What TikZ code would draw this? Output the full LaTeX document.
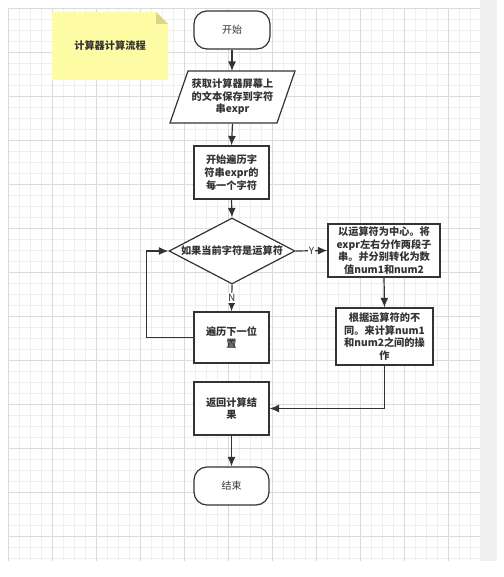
\documentclass[tikz,border=0pt]{standalone}
\usepackage{fontspec}
\usetikzlibrary{shapes.geometric,arrows.meta}
\newfontfamily\cjk{Noto Sans CJK SC}
\definecolor{linea}{HTML}{333333}
\definecolor{giallo}{HTML}{FDFBA3}
\definecolor{piega}{HTML}{D9D68C}
\definecolor{griglia}{HTML}{EFEFEF}
\definecolor{grigliaforte}{HTML}{DADADA}
\definecolor{banda}{HTML}{F0F0F0}
\tikzset{
  forma/.style={draw=linea,line width=1.2pt,fill=white},
  blocco/.style={forma,align=center,inner sep=0pt,text=linea,font=\cjk\bfseries\fontsize{10.2}{12.6}\selectfont},
  capsula/.style={forma,rounded corners=13pt,inner sep=0pt,text=linea,font=\cjk\fontsize{10}{12}\selectfont},
  rombo/.style={blocco,shape=diamond,minimum width=126pt,minimum height=66pt},
  freccia/.style={draw=linea,line width=1.2pt,-{Latex[length=9.5pt,width=8pt]}},
  etichetta/.style={fill=white,inner sep=1pt,text=linea,font=\cjk\fontsize{10}{12}\selectfont}
}
\begin{document}
\begin{tikzpicture}[x=1pt,y=-1pt]
        \useasboundingbox (0,0) rectangle (503,577);
        %sfondo a griglia
        \fill[banda](480,0)rectangle(497,561);
        \foreach \x in {8,19,...,470} \draw[griglia](\x,8)--(\x,561);
        \foreach \y in {8,19,...,558} \draw[griglia](8,\y)--(480,\y);
        \foreach \x in {8,52,...,470} \draw[grigliaforte](\x,8)--(\x,561);
        \foreach \y in {8,52,...,558} \draw[grigliaforte](8,\y)--(480,\y);

        %nota gialla col titolo
        \fill[giallo](52,12)--(156,12)--(168,24)--(168,80)--(52,80)--cycle;
        \fill[piega](156,12)--(156,24)--(168,24)--cycle;
        \node[text=linea,font=\cjk\bfseries\fontsize{10.2}{12}\selectfont] (titolo) at (110,46) {计算器计算流程};

        %inizio
        \node[capsula,minimum width=76pt,minimum height=38pt] (inizio) at (232,30) {开始};
        %lettura della stringa (parallelogramma)
        \draw[forma](170,123)--(277,123)--(295,71)--(188,71)--cycle;
        \node[blocco,draw=none,fill=none,minimum height=52pt] (leggi) at (232.5,97) {获取计算器屏幕上\\的文本保存到字符\\串expr};
        %scansione
        \node[blocco,minimum width=75pt,minimum height=53pt] (scorri) at (231.5,172.5) {开始遍历字\\符串expr的\\每一个字符};
        %decisione
        \node[rombo] (scelta) at (232,251) {\makebox[0pt]{如果当前字符是运算符}};
        %ramo Y
        \node[blocco,minimum width=112pt,minimum height=53pt] (dividi) at (384,250.5) {以运算符为中心。将\\expr左右分作两段子\\串。并分别转化为数\\值num1和num2};
        \node[blocco,minimum width=97pt,minimum height=57pt] (calcola) at (384.5,336.5) {根据运算符的不\\同。来计算num1\\和num2之间的操\\作};
        %ramo N
        \node[blocco,minimum width=75pt,minimum height=51pt] (avanti) at (231.5,337.5) {遍历下一位\\置};
        %risultato e fine
        \node[blocco,minimum width=75pt,minimum height=53pt] (risultato) at (231.5,408.5) {返回计算结\\果};
        \node[capsula,minimum width=75pt,minimum height=38pt] (fine) at (231.5,486) {结束};

        %frecce
        \draw[freccia](inizio.south)--(232,71);
        \draw[freccia](leggi.south)--(scorri.north);
        \draw[freccia](scorri.south)--(scelta.north);
        \draw[freccia](scelta.east)--node[etichetta]{Y}(dividi.west);
        \draw[freccia](scelta.south)--node[etichetta]{N}(avanti.north);
        \draw[freccia](avanti.west)--++(-47,0)|-(scelta.west);
        \draw[freccia](dividi.south)--(calcola.north);
        \draw[freccia](calcola.south)|-(risultato.east);
        \draw[freccia](risultato.south)--(fine.north);
\end{tikzpicture}
\end{document}
